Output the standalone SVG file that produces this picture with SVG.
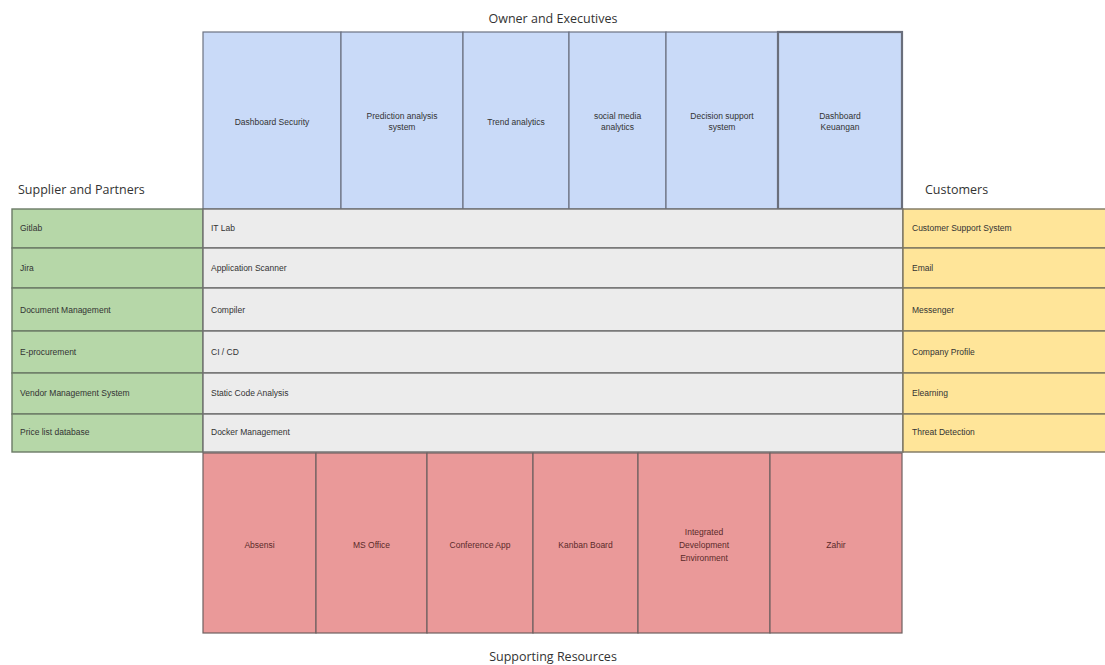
<svg xmlns="http://www.w3.org/2000/svg" width="1105" height="665" viewBox="0 0 1105 665">
  <style>
    .hdr { font-family: "Open Sans", "Liberation Sans", sans-serif; font-size: 12.5px; fill: #333333; }
    .lbl { font-family: "Liberation Sans", Arial, sans-serif; font-size: 8.5px; fill: #333333; }
    .lbl-c { text-anchor: middle; }
    .blue rect { fill: #c9daf8; stroke: #6d7282; stroke-width: 1.2; }
    .gray rect { fill: #ececec; stroke: #707070; stroke-width: 1.4; }
    .green rect { fill: #b6d7a8; stroke: #6b7a66; stroke-width: 1.4; }
    .yellow rect { fill: #ffe599; stroke: #7d7660; stroke-width: 1.4; }
    .red rect { fill: #ea9999; stroke: #6e6060; stroke-width: 1.2; }
    .red text { fill: #5a2a2a; }
  </style>

  <!-- section headings -->
  <g id="headings">
    <text class="hdr" x="553" y="23" text-anchor="middle">Owner and Executives</text>
    <text class="hdr" x="18" y="194">Supplier and Partners</text>
    <text class="hdr" x="925" y="194">Customers</text>
    <text class="hdr" x="553" y="661" text-anchor="middle">Supporting Resources</text>
  </g>

  <!-- Owner and Executives: top band -->
  <g id="executives" class="blue">
    <g id="exec-dashboard-security"><rect x="203" y="32" width="138" height="177"/><text class="lbl lbl-c" x="272" y="125">Dashboard Security</text></g>
    <g id="exec-prediction"><rect x="341" y="32" width="122" height="177"/><text class="lbl lbl-c" x="402" y="119">Prediction analysis</text><text class="lbl lbl-c" x="402" y="130">system</text></g>
    <g id="exec-trend"><rect x="463" y="32" width="106" height="177"/><text class="lbl lbl-c" x="516" y="125">Trend analytics</text></g>
    <g id="exec-social"><rect x="569" y="32" width="97" height="177"/><text class="lbl lbl-c" x="617.5" y="119">social media</text><text class="lbl lbl-c" x="617.5" y="130">analytics</text></g>
    <g id="exec-decision"><rect x="666" y="32" width="112" height="177"/><text class="lbl lbl-c" x="722" y="119">Decision support</text><text class="lbl lbl-c" x="722" y="130">system</text></g>
    <g id="exec-keuangan"><rect x="778" y="32" width="124" height="177" style="stroke-width:2.2;stroke:#6a6f7c"/><text class="lbl lbl-c" x="840" y="119">Dashboard</text><text class="lbl lbl-c" x="840" y="130">Keuangan</text></g>
  </g>

  <!-- Supplier and Partners: left column -->
  <g id="suppliers" class="green">
    <g id="sup-gitlab"><rect x="12" y="209" width="191" height="39"/><text class="lbl" x="20" y="231">Gitlab</text></g>
    <g id="sup-jira"><rect x="12" y="248" width="191" height="40"/><text class="lbl" x="20" y="271">Jira</text></g>
    <g id="sup-docs"><rect x="12" y="288" width="191" height="43"/><text class="lbl" x="20" y="313">Document Management</text></g>
    <g id="sup-eproc"><rect x="12" y="331" width="191" height="42"/><text class="lbl" x="20" y="355">E-procurement</text></g>
    <g id="sup-vendor"><rect x="12" y="373" width="191" height="41"/><text class="lbl" x="20" y="396">Vendor Management System</text></g>
    <g id="sup-pricelist"><rect x="12" y="414" width="191" height="38"/><text class="lbl" x="20" y="435">Price list database</text></g>
  </g>

  <!-- core platform rows -->
  <g id="core" class="gray">
    <g id="core-itlab"><rect x="203" y="209" width="700" height="39"/><text class="lbl" x="211" y="231">IT Lab</text></g>
    <g id="core-scanner"><rect x="203" y="248" width="700" height="40"/><text class="lbl" x="211" y="271">Application Scanner</text></g>
    <g id="core-compiler"><rect x="203" y="288" width="700" height="43"/><text class="lbl" x="211" y="313">Compiler</text></g>
    <g id="core-cicd"><rect x="203" y="331" width="700" height="42"/><text class="lbl" x="211" y="355">CI / CD</text></g>
    <g id="core-static"><rect x="203" y="373" width="700" height="41"/><text class="lbl" x="211" y="396">Static Code Analysis</text></g>
    <g id="core-docker"><rect x="203" y="414" width="700" height="38"/><text class="lbl" x="211" y="435">Docker Management</text></g>
  </g>

  <!-- Customers: right column -->
  <g id="customers" class="yellow">
    <g id="cus-support"><rect x="903" y="209" width="206" height="39"/><text class="lbl" x="912" y="231">Customer Support System</text></g>
    <g id="cus-email"><rect x="903" y="248" width="206" height="40"/><text class="lbl" x="912" y="271">Email</text></g>
    <g id="cus-messenger"><rect x="903" y="288" width="206" height="43"/><text class="lbl" x="912" y="313">Messenger</text></g>
    <g id="cus-profile"><rect x="903" y="331" width="206" height="42"/><text class="lbl" x="912" y="355">Company Profile</text></g>
    <g id="cus-elearning"><rect x="903" y="373" width="206" height="41"/><text class="lbl" x="912" y="396">Elearning</text></g>
    <g id="cus-threat"><rect x="903" y="414" width="206" height="38"/><text class="lbl" x="912" y="435">Threat Detection</text></g>
  </g>

  <!-- Supporting Resources: bottom band -->
  <g id="resources" class="red">
    <g id="res-absensi"><rect x="203" y="453" width="113" height="180"/><text class="lbl lbl-c" x="259.5" y="548">Absensi</text></g>
    <g id="res-msoffice"><rect x="316" y="453" width="111" height="180"/><text class="lbl lbl-c" x="371.5" y="548">MS Office</text></g>
    <g id="res-conference"><rect x="427" y="453" width="106" height="180"/><text class="lbl lbl-c" x="480" y="548">Conference App</text></g>
    <g id="res-kanban"><rect x="533" y="453" width="105" height="180"/><text class="lbl lbl-c" x="585.5" y="548">Kanban Board</text></g>
    <g id="res-ide"><rect x="638" y="453" width="132" height="180"/><text class="lbl lbl-c" x="704" y="535">Integrated</text><text class="lbl lbl-c" x="704" y="548">Development</text><text class="lbl lbl-c" x="704" y="561">Environment</text></g>
    <g id="res-zahir"><rect x="770" y="453" width="132" height="180"/><text class="lbl lbl-c" x="836" y="548">Zahir</text></g>
  </g>

  <!-- no connectors in this layout -->
  <g id="connectors"/>
</svg>
